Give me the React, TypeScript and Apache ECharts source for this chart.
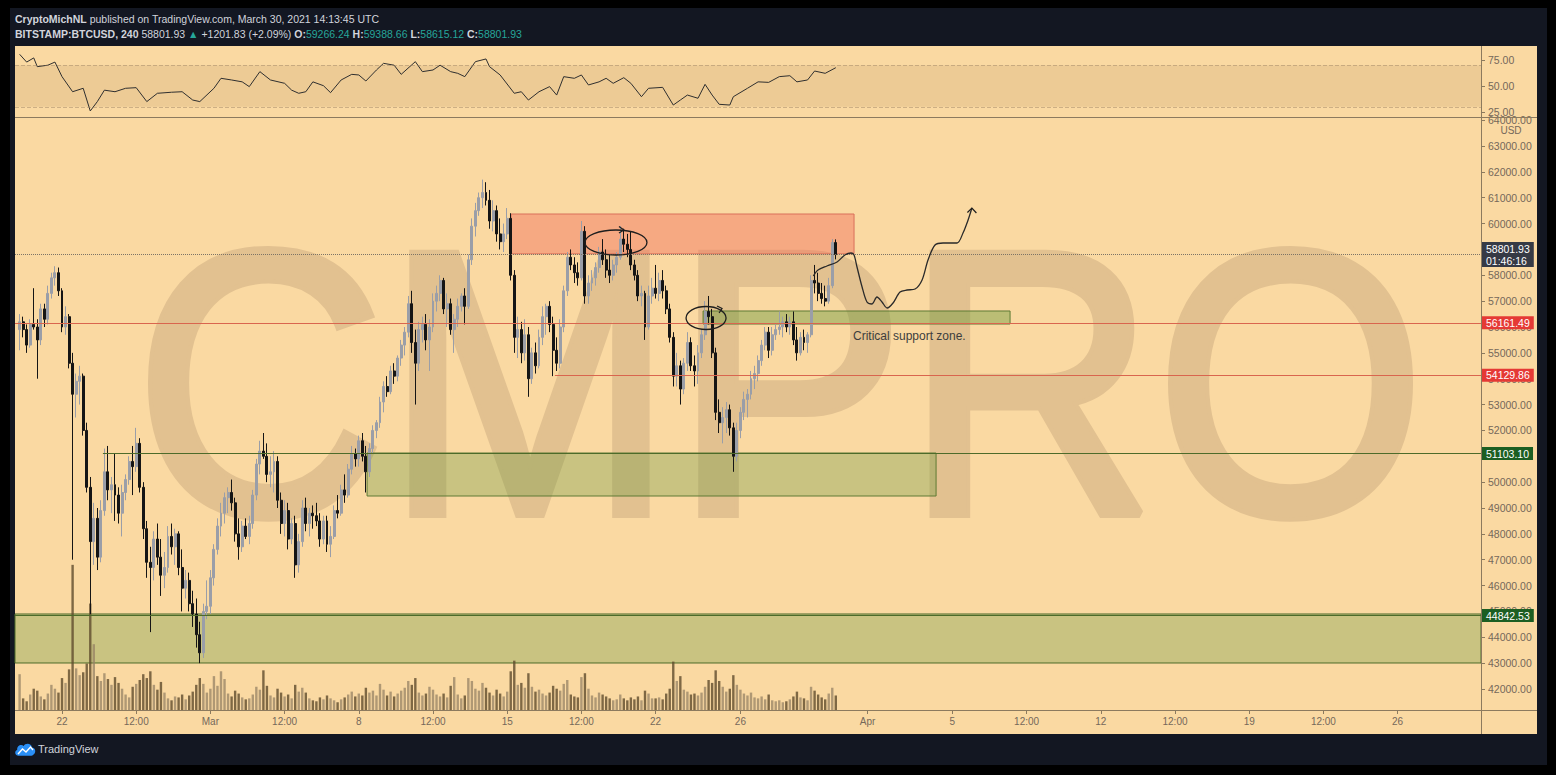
import React, { useEffect, useRef } from "react";
import * as echarts from "echarts";

// ---------------- DATA ----------------
// x values are days counted from 22 Feb 2021 00:00 UTC; bars are 4h (BITSTAMP:BTCUSD, 240)
const FIRST_BAR_DAY = -2; // 20 Feb 2021 00:00 UTC
const BAR_DAYS = 4 / 24;

const opens = [
  55900, 56200, 55900, 55300, 56100, 56000, 55500, 56700, 56300, 57300, 57900, 58100,
  57400, 56000, 56400, 54600, 53400, 53900, 54100, 52000, 49800, 47700, 48600, 47100,
  48900, 50400, 49700, 49900, 49500, 48800, 49600, 50100, 50800, 50600, 51500, 49800,
  48200, 46900, 46700, 47800, 47100, 46400, 46700, 47900, 47500, 48000, 46700, 45900,
  46200, 45300, 44900, 44100, 43400, 45000, 45200, 46300, 47400, 48300, 48800, 49400,
  49600, 49200, 48000, 47500, 48300, 47900, 48400, 49500, 50700, 51200, 51000, 50300,
  50400, 50800, 49300, 48400, 48900, 47800, 48400, 46800, 47700, 49000, 48400, 48800,
  48700, 48500, 47800, 48500, 47600, 47900, 48900, 48800, 49700, 49500, 50500, 51100,
  50900, 51600, 51000, 50400, 51300, 52000, 52300, 53100, 53700, 53500, 54300, 54100,
  54800, 55300, 55800, 56900, 55400, 54600, 55900, 56100, 55500, 56000, 57000, 57300,
  57800, 56700, 56900, 55900, 56300, 56800, 57200, 56800, 58600, 59900, 60500, 61000,
  61200, 60900, 60100, 60500, 59600, 59300, 59600, 60200, 58000, 55600, 55900, 55000,
  55700, 54000, 55000, 54500, 55600, 56400, 56800, 56100, 55100, 54600, 56000, 57400,
  58700, 58400, 58100, 57900, 59700, 57200, 57700, 57900, 58300, 58900, 58600, 58200,
  58000, 58400, 58700, 59400, 59200, 59000, 58400, 58000, 57200, 57300, 56000, 57200,
  57500, 57300, 57800, 57400, 56700, 55600, 54100, 54500, 53600, 54600, 55400, 54500,
  54300, 55000, 55700, 56600, 56400, 55000, 52700, 52300, 52500, 52800, 52100, 51000,
  52000, 52700, 53200, 53400, 54000, 54200, 54700, 55300, 55800, 55100, 55700, 55900,
  56000, 56200, 56000, 56200, 55500, 55000, 55600, 55400, 55700, 57800, 57700, 57300,
  57100, 57000, 57600.1, 59266.24,
];
const highs = [
  56500, 56400, 56100, 56300, 57500, 56300, 56900, 56900, 57600, 58100, 58350, 58300,
  57500, 56800, 56500, 55000, 54200, 54500, 54200, 52300, 50200, 49200, 49000, 49300,
  51300, 51400, 50200, 51100, 49800, 49900, 50300, 51000, 51400, 52100, 51700, 50000,
  48500, 47500, 48100, 48400, 47800, 47300, 48300, 48400, 48200, 48100, 47400, 46600,
  46500, 45800, 45500, 44600, 45300, 46200, 46600, 47600, 48600, 49200, 49600, 49800,
  50100, 49400, 48600, 48500, 48600, 48700, 49700, 50900, 51600, 51900, 51500, 51000,
  51200, 51000, 49600, 49300, 49200, 48600, 48700, 48000, 49300, 49400, 49000, 49100,
  49200, 48800, 48700, 48700, 48300, 49100, 49500, 49900, 50300, 50700, 51400, 51300,
  51800, 51900, 51400, 51500, 52200, 52400, 53300, 53900, 54100, 54500, 54600, 54900,
  55500, 56000, 57200, 57400, 55900, 56200, 56400, 56500, 56300, 57300, 57600, 58000,
  57900, 57300, 57100, 56500, 57100, 57300, 57500, 58800, 60200, 60800, 61200, 61700,
  61600, 61300, 60900, 60700, 60200, 60000, 60600, 60400, 58200, 56400, 56200, 56300,
  56000, 55200, 55400, 55900, 56800, 56900, 57000, 56400, 55600, 56300, 57600, 58900,
  59000, 58700, 58500, 60100, 59900, 58000, 58200, 58500, 59100, 59400, 59000, 58800,
  58600, 58900, 59900, 59800, 59600, 59700, 58600, 58200, 57600, 57400, 57600, 57900,
  58400, 58100, 58200, 57600, 56900, 55800, 55000, 54700, 54800, 55800, 55600, 54900,
  55300, 55900, 57000, 57200, 56700, 55200, 53200, 52900, 53100, 53000, 52300, 52300,
  52900, 53500, 53600, 54300, 54500, 54900, 55500, 56000, 56000, 56000, 56100, 56600,
  56400, 56500, 56400, 56600, 56000, 55800, 55900, 55800, 58000, 58400, 58100, 57700,
  57600, 57900, 59400, 59388.66,
];
const lows = [
  55100, 55600, 55000, 55200, 55900, 54000, 55300, 56000, 56100, 57100, 57600, 57200,
  55800, 55700, 54400, 47000, 52500, 53000, 51800, 49600, 44900, 46800, 46600, 46900,
  48700, 49300, 48800, 48500, 48400, 47900, 49300, 49900, 49500, 50400, 49600, 47800,
  46300, 44200, 46200, 46800, 45600, 45900, 46500, 47200, 46800, 46400, 45000, 45500,
  45000, 44400, 43600, 43000, 43200, 44700, 44900, 46000, 47200, 47900, 48400, 48800,
  48900, 47700, 47000, 47300, 47800, 47600, 48200, 49300, 50300, 50900, 50000, 49800,
  49600, 49000, 48000, 47900, 47400, 47600, 46300, 46500, 47500, 48100, 47900, 48200,
  48300, 47500, 47600, 47300, 47100, 47800, 48600, 48700, 49200, 49400, 50300, 50600,
  50600, 50800, 49600, 50200, 51100, 51700, 52100, 52700, 53300, 53400, 53800, 53900,
  54500, 54900, 55600, 55000, 53000, 54300, 55400, 55100, 54300, 55800, 56600, 57000,
  56500, 56000, 55700, 55000, 56000, 56600, 56100, 56700, 58400, 59500, 60300, 60600,
  60700, 59800, 59700, 59300, 59000, 58900, 59400, 57800, 55000, 54800, 54600, 54700,
  53300, 53800, 54200, 54400, 55300, 55700, 55800, 54100, 54300, 54400, 55800, 57200,
  58200, 57700, 57600, 57800, 56900, 56900, 57400, 57600, 58100, 58400, 57900, 57700,
  57800, 58100, 58600, 58900, 58700, 58200, 57800, 57000, 56800, 55500, 55900, 56900,
  57100, 57000, 57100, 56500, 55400, 53700, 53700, 53000, 53400, 54300, 54300, 53700,
  53800, 54800, 55500, 56100, 54800, 52400, 51900, 51500, 51900, 51800, 50400, 50800,
  51700, 52400, 52500, 53200, 53600, 53900, 54500, 55100, 54800, 54900, 55500, 55700,
  55600, 55800, 55700, 55300, 54700, 54900, 55100, 55000, 55600, 57300, 57000, 56900,
  56800, 56900, 57500, 58615.12,
];
const closes = [
  56200, 55900, 55300, 56100, 56000, 55500, 56700, 56300, 57300, 57900, 58100, 57400,
  56000, 56400, 54600, 53400, 53900, 54100, 52000, 49800, 47700, 48600, 47100, 48900,
  50400, 49700, 49900, 49500, 48800, 49600, 50100, 50800, 50600, 51500, 49800, 48200,
  46900, 46700, 47800, 47100, 46400, 46700, 47900, 47500, 48000, 46700, 45900, 46200,
  45300, 44900, 44100, 43400, 45000, 45200, 46300, 47400, 48300, 48800, 49400, 49600,
  49200, 48000, 47500, 48300, 47900, 48400, 49500, 50700, 51200, 51000, 50300, 50400,
  50800, 49300, 48400, 48900, 47800, 48400, 46800, 47700, 49000, 48400, 48800, 48700,
  48500, 47800, 48500, 47600, 47900, 48900, 48800, 49700, 49500, 50500, 51100, 50900,
  51600, 51000, 50400, 51300, 52000, 52300, 53100, 53700, 53500, 54300, 54100, 54800,
  55300, 55800, 56900, 55400, 54600, 55900, 56100, 55500, 56000, 57000, 57300, 57800,
  56700, 56900, 55900, 56300, 56800, 57200, 56800, 58600, 59900, 60500, 61000, 61200,
  60900, 60100, 60500, 59600, 59300, 59600, 60200, 58000, 55600, 55900, 55000, 55700,
  54000, 55000, 54500, 55600, 56400, 56800, 56100, 55100, 54600, 56000, 57400, 58700,
  58400, 58100, 57900, 59700, 57200, 57700, 57900, 58300, 58900, 58600, 58200, 58000,
  58400, 58700, 59400, 59200, 59000, 58400, 58000, 57200, 57300, 56000, 57200, 57500,
  57300, 57800, 57400, 56700, 55600, 54100, 54500, 53600, 54600, 55400, 54500, 54300,
  55000, 55700, 56600, 56400, 55000, 52700, 52300, 52500, 52800, 52100, 51000, 52000,
  52700, 53200, 53400, 54000, 54200, 54700, 55300, 55800, 55100, 55700, 55900, 56000,
  56200, 56000, 56200, 55500, 55000, 55600, 55400, 55700, 57800, 57700, 57300, 57100,
  57000, 57600.1, 59266.24, 58801.93,
];
const volumes = [
  3700, 1200, 900, 1600, 2200, 2000, 1400, 1100, 1700, 2600, 2200, 1800,
  3300, 2800, 4200, 15000, 4300, 3600, 3900, 4800, 11000, 6800, 3500, 3000,
  3800, 3200, 2600, 3400, 2800, 2200, 1600, 1300, 2400, 2700, 3100, 3700,
  3300, 4000, 2600, 2100, 2900, 1800, 1200, 1000, 1400, 1300, 1600, 1100,
  1500, 1900, 2600, 3300, 2700, 1800, 2200, 3500, 2500, 4000, 3200, 1700,
  1400, 2000, 1700, 1300, 1100, 1200, 1600, 2400, 2100, 4100, 2500, 1500,
  1300, 2200, 1800, 1400, 1600, 1200, 2600, 1900, 2300, 1800, 1200, 1000,
  900, 1300, 1100, 1500, 1200, 1000, 800, 1100, 1300, 1600, 1900, 1400,
  1700, 1500, 2300, 1800, 2000, 1500, 2700, 2100, 1500, 1900, 1400, 1700,
  2000, 2300, 3000, 2600, 3300, 1800, 1500, 1700, 2400, 2100, 1600, 1400,
  1700, 1300, 2500, 3400, 1600, 1200, 1500, 3300, 3000, 2200, 2000, 2800,
  2300, 1800, 1500, 2100, 1700, 1400, 1900, 4000, 5100, 2600, 2800, 2300,
  3800, 2400, 1900, 2100, 1700, 1500, 1800, 2500, 2200, 2000, 2700, 3100,
  1600, 1400, 1300, 3400, 3800, 2200, 1500, 1300, 1800, 1600, 1400, 1200,
  1000, 1100, 1600, 1200, 1000, 1300, 1100, 1400, 1000, 2000, 1700, 1200,
  1200, 1300, 1100, 1700, 2200, 5000, 3000, 3500, 2100, 1900, 1600, 1700,
  1500, 1800, 2400, 3100, 2800, 4100, 3000, 2400, 1900, 2200, 3600, 2600,
  2100, 1700, 1500, 1800, 1300, 1200, 1400, 1100, 1600, 1000, 900, 1000,
  800, 900, 1100, 1400, 1900, 1300, 1200, 1000, 2400, 2000, 1600, 1300,
  1100, 1700, 2300, 1500,
];

// RSI(14): bar index -> value
const rsiBars = [
  0, 2, 4, 5, 8, 10, 12, 15, 18, 20, 22, 24, 27, 30, 33, 36, 39, 43, 46, 49, 51, 55, 57, 60,
  63, 65, 68, 71, 75, 77, 79, 81, 83, 86, 88, 91, 94, 96, 98, 101, 103, 106, 108, 112, 114, 117,
  119, 122, 124, 126, 129, 132, 133, 136, 140, 142, 144, 147, 150, 152, 154, 157, 159, 161, 164, 166,
  168, 171, 173, 176, 178, 182, 185, 187, 189, 192, 194, 196, 198, 201, 202, 206, 209, 212, 215, 218,
  220, 223, 225, 228, 231,
];
const rsiValues = [
  80.5, 73, 77, 68.6, 70, 73, 59, 44.5, 47.8, 26, 35, 46, 44.5, 47.8, 48.4, 35, 43, 44, 44.5, 36.5, 35, 47.8, 57.4, 55.8,
  54, 49.4, 63.8, 55.8, 52.6, 46, 43, 44.5, 54, 50.3, 43.6, 55.8, 61.2, 60.6, 54.8, 65.4, 71.8, 70, 61.2, 73.4, 63.8, 65.4,
  70, 63.8, 62.2, 59, 73.4, 76, 68.6, 60.6, 43, 44.5, 36.5, 44.5, 49.4, 41.3, 59, 57.4, 60.6, 51, 54, 57.4,
  52.6, 58, 52.6, 39.7, 47.8, 48.7, 31.7, 36.5, 41.3, 38.2, 51.6, 41.3, 32.4, 31.7, 39.7, 47.8, 54, 53.5, 59, 59.9,
  54, 55.8, 64.4, 62.2, 67.6,
];

// hand-drawn projection (day, price)
const projectionDays = [
  35.44, 35.66, 36.08, 36.56, 36.93, 37.22, 37.36, 37.5, 37.74, 37.97, 38.21, 38.44, 38.68,
  38.92, 39.2, 39.53, 39.86, 40.24, 40.57, 40.85, 41.18, 41.56, 42.22, 42.5, 42.74, 42.92,
];
const projectionPrices = [
  57973, 58204, 58359, 58514, 58785, 58862, 58785, 58320, 57547, 56967, 56890, 57160, 56967,
  56735, 56928, 57354, 57431, 57470, 57818, 58591, 59171, 59249, 59249, 59635, 60138, 60602,
];

const timeTickDays = [0, 3.5, 7, 10.5, 14, 17.5, 21, 24.5, 28, 32, 38, 42, 45.5, 49, 52.5, 56, 59.5, 63];
const timeTickLabels = ["22", "12:00", "Mar", "12:00", "8", "12:00", "15", "12:00", "22", "26", "Apr", "5", "12:00", "12", "12:00", "19", "12:00", "26"];
const priceTicks = [
  42000, 43000, 44000, 45000, 46000, 47000, 48000, 49000, 50000, 51000, 52000, 53000,
  54000, 55000, 56000, 57000, 58000, 59000, 60000, 61000, 62000, 63000, 64000,
];
const rsiTicks = [25, 50, 75];

const lastPrice = 58801.93;
const barCountdown = "01:46:16";
const redLevels = [56161.49, 54129.86];
const redLevelStartDays = [-2.217, 23.25];
const greenLevels = [51103.1, 44842.53];
const greenLevelStartDays = [1.93, -2.217];

// zones: [startDay, endDay, lowPrice, highPrice]
const supplyZone = [21.18, 37.36, 58830, 60370];
const criticalZone = [30.24, 44.72, 56116, 56619];
const demandZone = [14.39, 41.23, 49464, 51127];
const deepDemandZone = [-2.217, 66.934, 43006, 44901];

// annotation anchors (day, price)
const ellipseA = [26.13, 59268];
const ellipseB = [30.38, 56348];
const noteAnchor = [37.31, 55652];
const noteText = "Critical support zone.";

const headerChange = "+1201.83 (+2.09%)";

// ---------------- STYLE ----------------
const X_MIN = -2.217;
const X_MAX = 66.934;
const PRICE_MIN = 41188;
const PRICE_MAX = 64083;
const RSI_MIN = 20.2;
const RSI_MAX = 87.5;
const VOL_MAX = 15500;

const FONT = '"Liberation Sans", Arial, sans-serif';
const PEACH = "#fad9a2";
const NAVY = "#131722";
const AXIS_TXT = "#75685a";
const FRAME = "#8c7a5e";
const UP = "#9a9ea8";
const DOWN = "#151515";
const UP_VOL = "rgba(150,130,100,0.75)";
const DOWN_VOL = "rgba(95,75,45,0.8)";
const GREEN_TXT = "#26a69a";
const WATERMARK = "#e2c190";

const LOGO_PATH =
  "M5 16 C1 16 0 11 3.5 9.5 C3 5 8 3 10.5 5.5 C12 2 19 2 19.5 7 C23 7 24.5 12 21.5 14.5 C21 15.5 20 16 19 16 Z";
echarts.graphic.registerShape("tvLogo", echarts.graphic.extendPath(LOGO_PATH, {}));

const barDay = (i: number) => FIRST_BAR_DAY + i * BAR_DAYS;

function timeLabel(v: number) {
  for (let k = 0; k < timeTickDays.length; k++) {
    if (Math.abs(timeTickDays[k] - v) < 1e-6) return timeTickLabels[k];
  }
  return "";
}

function buildOption() {
  const candleData = opens.map((o, i) => [barDay(i), o, closes[i], lows[i], highs[i]]);
  const volumeData = volumes.map((v, i) => ({
    value: [barDay(i), v],
    itemStyle: { color: closes[i] >= opens[i] ? UP_VOL : DOWN_VOL },
  }));
  const rsiData = rsiBars.map((b, k) => [barDay(b), rsiValues[k]]);
  const projData = projectionDays.map((d, k) => [d, projectionPrices[k]]);

  const boxLabel = (text: string, bg: string) => ({
    show: true,
    position: "end",
    formatter: text,
    backgroundColor: bg,
    color: "#ffffff",
    fontFamily: FONT,
    fontSize: 10.5,
    lineHeight: 12,
    padding: [1, 4, 0, 4],
    distance: 1,
  });

  const zone = (z: number[], fill: string, border: string) => [
    { coord: [z[0], z[3]], itemStyle: { color: fill, borderColor: border, borderWidth: 1 } },
    { coord: [z[1], z[2]] },
  ];

  const level = (price: number, from: number, color: string, type: string, bg: string, text: string) => [
    {
      coord: [from, price],
      lineStyle: { color, type, width: 1 },
      label: boxLabel(text, bg),
    },
    { coord: [X_MAX, price] },
  ];

  const axisLabelStyle = { color: AXIS_TXT, fontFamily: FONT, fontSize: 10.5 };

  return {
    animation: false,
    backgroundColor: "#000000",
    grid: [
      { left: 15, right: 75, top: 47, height: 70 },
      { left: 15, right: 75, top: 118, height: 592 },
      { left: 15, right: 75, top: 560, height: 150 },
    ],
    xAxis: [0, 1, 2].map((g) => ({
      type: "value",
      gridIndex: g,
      min: X_MIN,
      max: X_MAX,
      axisLine: { show: false, onZero: false },
      splitLine: { show: false },
      axisTick:
        g === 1
          ? { show: true, customValues: timeTickDays, length: 4, lineStyle: { color: FRAME } }
          : { show: false },
      axisLabel:
        g === 1
          ? {
              show: true,
              customValues: timeTickDays,
              formatter: (v: number) => timeLabel(v),
              color: AXIS_TXT,
              fontFamily: FONT,
              fontSize: 10,
              margin: 6,
            }
          : { show: false },
    })),
    yAxis: [
      {
        type: "value",
        gridIndex: 0,
        min: RSI_MIN,
        max: RSI_MAX,
        position: "right",
        axisLine: { show: false, onZero: false },
        splitLine: { show: false },
        axisTick: { show: true, customValues: rsiTicks, length: 4, lineStyle: { color: FRAME } },
        axisLabel: { customValues: rsiTicks, formatter: (v: number) => v.toFixed(2), margin: 7, ...axisLabelStyle },
      },
      {
        type: "value",
        gridIndex: 1,
        min: PRICE_MIN,
        max: PRICE_MAX,
        position: "right",
        axisLine: { show: false, onZero: false },
        splitLine: { show: false },
        axisTick: { show: true, customValues: priceTicks, length: 4, lineStyle: { color: FRAME } },
        axisLabel: { customValues: priceTicks, formatter: (v: number) => v.toFixed(2), margin: 7, ...axisLabelStyle },
      },
      { type: "value", gridIndex: 2, min: 0, max: VOL_MAX, show: false, axisLine: { onZero: false } },
    ],
    series: [
      {
        type: "line",
        name: "RSI",
        xAxisIndex: 0,
        yAxisIndex: 0,
        data: rsiData,
        symbol: "none",
        lineStyle: { color: "#2f2f2f", width: 1 },
        markArea: {
          silent: true,
          itemStyle: { color: "rgba(170,130,80,0.15)" },
          data: [[{ yAxis: 30 }, { yAxis: 70 }]],
        },
        markLine: {
          silent: true,
          symbol: ["none", "none"],
          label: { show: false },
          lineStyle: { color: "rgba(150,125,95,0.45)", type: "dashed", width: 1 },
          data: [{ yAxis: 30 }, { yAxis: 70 }],
        },
      },
      {
        type: "bar",
        name: "Volume",
        xAxisIndex: 2,
        yAxisIndex: 2,
        data: volumeData,
        barWidth: 2.4,
        z: 1,
      },
      {
        type: "candlestick",
        name: "BTCUSD",
        xAxisIndex: 1,
        yAxisIndex: 1,
        data: candleData,
        barWidth: 2.4,
        clip: false,
        itemStyle: { color: UP, color0: DOWN, borderColor: UP, borderColor0: DOWN, borderWidth: 1 },
        markArea: {
          silent: true,
          data: [
            zone(supplyZone, "rgba(242,110,90,0.45)", "#d9705a"),
            zone(demandZone, "rgba(100,150,60,0.32)", "#5e7a34"),
            zone(criticalZone, "rgba(100,150,55,0.42)", "#5e7a34"),
            zone(deepDemandZone, "rgba(100,150,60,0.32)", "#4d6b2a"),
          ],
        },
        markLine: {
          silent: true,
          symbol: ["none", "none"],
          data: [
            level(lastPrice, X_MIN, "#7d7466", "dotted", "#363a45", `${lastPrice.toFixed(2)}\n${barCountdown}`),
            level(redLevels[0], redLevelStartDays[0], "#d9654e", "solid", "#e53935", redLevels[0].toFixed(2)),
            level(redLevels[1], redLevelStartDays[1], "#d9654e", "solid", "#e53935", redLevels[1].toFixed(2)),
            level(greenLevels[0], greenLevelStartDays[0], "#4d6b2a", "solid", "#1c5e22", greenLevels[0].toFixed(2)),
            level(greenLevels[1], greenLevelStartDays[1], "#4d6b2a", "solid", "#1c5e22", greenLevels[1].toFixed(2)),
          ],
        },
      },
      {
        type: "line",
        name: "Projection",
        xAxisIndex: 1,
        yAxisIndex: 1,
        data: projData,
        smooth: 0.3,
        symbol: "none",
        lineStyle: { color: "#2a2a2a", width: 1.3 },
        z: 5,
      },
    ],
  };
}

function buildGraphics(chart: echarts.ECharts) {
  const P = (d: number, p: number) =>
    chart.convertToPixel({ xAxisIndex: 1, yAxisIndex: 1 }, [d, p]) as number[];
  const e1 = P(ellipseA[0], ellipseA[1]);
  const e2 = P(ellipseB[0], ellipseB[1]);
  const note = P(noteAnchor[0], noteAnchor[1]);
  const tip = P(projectionDays[projectionDays.length - 1], projectionPrices[projectionPrices.length - 1]);
  const n = opens.length - 1;
  const ink = "#1e1e1e";

  const header1 = "{b|CryptoMichNL} published on TradingView.com, March 30, 2021 14:13:45 UTC";
  const header2 =
    `{b|BITSTAMP:BTCUSD, 240} ${closes[n].toFixed(2)} {g|▲} ${headerChange} ` +
    `{b|O:}{g|${opens[n].toFixed(2)}} {b|H:}{g|${highs[n].toFixed(2)}} ` +
    `{b|L:}{g|${lows[n].toFixed(2)}} {b|C:}{g|${closes[n].toFixed(2)}}`;
  const rich = {
    b: { fontWeight: "bold", fill: "#d1d4dc", fontSize: 10.5, fontFamily: FONT },
    g: { fill: GREEN_TXT, fontSize: 10.5, fontFamily: FONT },
  };

  return [
    { id: "navy", type: "rect", z: -10, shape: { x: 10, y: 8, width: 1537, height: 757 }, style: { fill: NAVY } },
    { id: "peach", type: "rect", z: -9, shape: { x: 15, y: 46, width: 1522, height: 688 }, style: { fill: PEACH } },
    {
      id: "wm",
      type: "text",
      z: -5,
      x: 780,
      y: 383,
      scaleX: 0.92,
      style: {
        text: "CMPRO",
        fill: WATERMARK,
        stroke: WATERMARK,
        lineWidth: 9,
        font: `377px ${FONT}`,
        align: "center",
        verticalAlign: "middle",
        textAlign: "center",
        textVerticalAlign: "middle",
      },
    },
    { id: "sep", type: "line", z: 8, shape: { x1: 15, y1: 117.5, x2: 1537, y2: 117.5 }, style: { stroke: FRAME, lineWidth: 1 } },
    { id: "vdiv", type: "line", z: 8, shape: { x1: 1481.5, y1: 46, x2: 1481.5, y2: 734 }, style: { stroke: FRAME, lineWidth: 1 } },
    { id: "taxis", type: "line", z: 8, shape: { x1: 15, y1: 710.5, x2: 1537, y2: 710.5 }, style: { stroke: FRAME, lineWidth: 1 } },
    {
      id: "usd",
      type: "text",
      z: 8,
      x: 1511,
      y: 130,
      style: { text: "USD", fill: AXIS_TXT, font: `10px ${FONT}`, align: "center", verticalAlign: "middle", textAlign: "center", textVerticalAlign: "middle" },
    },
    {
      id: "h1",
      type: "text",
      z: 8,
      x: 15,
      y: 19,
      style: { text: header1, rich, fill: "#d1d4dc", font: `10.5px ${FONT}`, verticalAlign: "middle", textVerticalAlign: "middle" },
    },
    {
      id: "h2",
      type: "text",
      z: 8,
      x: 15,
      y: 34,
      style: { text: header2, rich, fill: "#d1d4dc", font: `10.5px ${FONT}`, verticalAlign: "middle", textVerticalAlign: "middle" },
    },
    { id: "logo", type: "tvLogo", z: 8, x: 14, y: 741, scaleX: 0.92, scaleY: 0.92, style: { fill: "#2a8ff7" } },
    {
      id: "logoLine",
      type: "polyline",
      z: 9,
      shape: { points: [[18, 754], [22.5, 749], [26, 752], [30.5, 747], [33, 750]] },
      style: { stroke: "#ffffff", lineWidth: 1.4, fill: "none" },
    },
    {
      id: "logoText",
      type: "text",
      z: 8,
      x: 38,
      y: 749,
      style: { text: "TradingView", fill: "#d1d4dc", font: `11px ${FONT}`, verticalAlign: "middle", textVerticalAlign: "middle" },
    },
    {
      id: "ell1",
      type: "ellipse",
      z: 10,
      shape: { cx: e1[0], cy: e1[1], rx: 31, ry: 12.5 },
      style: { fill: "none", stroke: ink, lineWidth: 1.3 },
    },
    {
      id: "ell1a",
      type: "polyline",
      z: 10,
      shape: { points: [[e1[0] + 3, e1[1] - 16], [e1[0] + 8, e1[1] - 12.5], [e1[0] + 3, e1[1] - 9.5]] },
      style: { fill: "none", stroke: ink, lineWidth: 1.2 },
    },
    {
      id: "ell2",
      type: "ellipse",
      z: 10,
      shape: { cx: e2[0], cy: e2[1], rx: 20, ry: 11.5 },
      style: { fill: "none", stroke: ink, lineWidth: 1.3 },
    },
    {
      id: "ell2a",
      type: "polyline",
      z: 10,
      shape: { points: [[e2[0] + 11, e2[1] - 12], [e2[0] + 16, e2[1] - 9.5], [e2[0] + 13, e2[1] - 5]] },
      style: { fill: "none", stroke: ink, lineWidth: 1.2 },
    },
    {
      id: "tipA",
      type: "polyline",
      z: 10,
      shape: { points: [[tip[0] - 4.5, tip[1] + 4.5], [tip[0], tip[1]], [tip[0] + 4.5, tip[1] + 5]] },
      style: { fill: "none", stroke: ink, lineWidth: 1.2 },
    },
    {
      id: "note",
      type: "text",
      z: 10,
      x: note[0],
      y: note[1],
      style: { text: noteText, fill: "#3d3d3d", font: `12px ${FONT}`, verticalAlign: "middle", textVerticalAlign: "middle" },
    },
  ];
}

export default function App() {
  const ref = useRef<HTMLDivElement>(null);
  useEffect(() => {
    const el = ref.current;
    if (!el) return;
    const chart = echarts.init(el, null, { renderer: "svg" });
    chart.setOption(buildOption() as any);
    chart.setOption({ graphic: { elements: buildGraphics(chart) } } as any);
    return () => chart.dispose();
  }, []);
  return (
    <div
      ref={ref}
      style={{ position: "fixed", left: 0, top: 0, width: 1556, height: 775, background: "#000" }}
    />
  );
}
